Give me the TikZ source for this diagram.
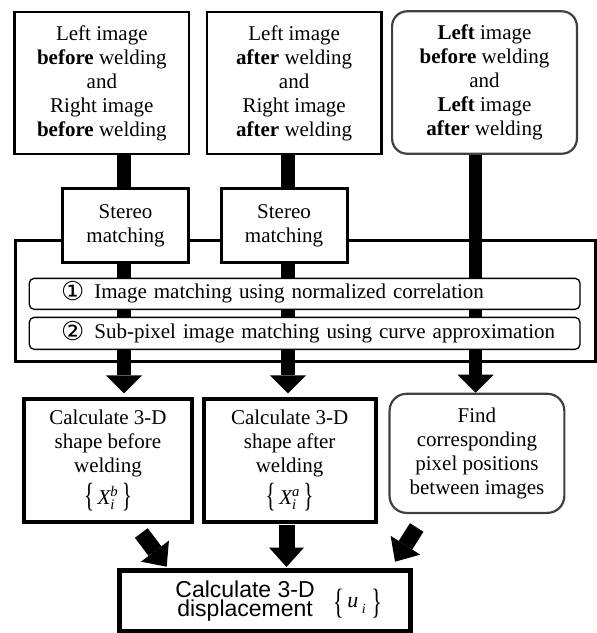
\documentclass[tikz,border=0pt]{standalone}
\usepackage{fontspec}
\usepackage{graphicx}
\setmainfont{Liberation Serif}
\newfontfamily\sansf{Liberation Sans}
\newfontfamily\symf{DejaVu Sans}
\usetikzlibrary{arrows.meta,calc,backgrounds}
\definecolor{rgray}{gray}{0.25}
\newcommand\brL[1][0em]{\raisebox{#1}{\scalebox{1}[1.6]{\{}}}
\newcommand\brR[1][0em]{\raisebox{#1}{\scalebox{1}[1.6]{\}}}}
\newcommand\circnum[1]{\makebox[33.4pt][l]{\smash{\raisebox{-0.08em}{\symf\fontsize{26}{24}\selectfont #1}}}}
\begin{document}
\begin{tikzpicture}[x=1pt,y=-1pt,
  box/.style={draw, line width=2.6pt, fill=white, inner sep=0pt, align=center, font=\fontsize{21}{24}\selectfont},
  rbox/.style={box, draw=rgray, line width=2.2pt, rounded corners=15pt},
  sbox/.style={box, line width=3pt},
  cbox/.style={box, line width=4pt},
  mbox/.style={draw, line width=1.3pt, fill=white, rounded corners=5pt, inner ysep=0pt, inner xsep=10pt, text width=530.8pt, align=left, minimum height=31pt, font=\fontsize{21}{24}\selectfont},
  bar/.style={line width=13.5pt, -{Triangle[width=36pt,length=18pt,line width=0pt]}},
  darrow/.style={line width=16pt, -{Triangle[width=35pt,length=19.5pt,line width=0pt]}}]
\useasboundingbox (0,0) rectangle (597,633);

% top row
\node[box, minimum width=174.5pt, minimum height=142pt] (top1) at (101.85,83)
  {Left image\\\textbf{before} welding\\and\\Right image\\\textbf{before} welding};
\node[box, minimum width=174.5pt, minimum height=142pt] (top2) at (294.15,83)
  {Left image\\\textbf{after} welding\\and\\Right image\\\textbf{after} welding};
\node[rbox, minimum width=184.8pt, minimum height=142.4pt] (top3) at (484.5,82.5)
  {\textbf{Left} image\\\textbf{before} welding\\and\\\textbf{Left} image\\\textbf{after} welding};

% stereo matching
\node[sbox, minimum width=126.4pt, minimum height=74pt] (st1) at (125.5,225.5) {Stereo\\matching};
\node[sbox, minimum width=126.1pt, minimum height=74pt] (st2) at (284.05,225.5) {Stereo\\matching};

% matching steps
\node[mbox] (m1) at (304.65,293.85)
  {\hspace*{21.75pt}\circnum{①}Image matching using normalized correlation};
\node[mbox, minimum height=32pt] (m2) at (304.65,333.35)
  {\hspace*{21.75pt}\circnum{②}Sub-pixel image matching using curve approximation};

% results
\node[cbox, minimum width=168.5pt, minimum height=123.3pt] (calc1) at (107.95,460.35)
  {Calculate 3-D\\shape before\\welding\\[5pt]\brL[-0.1em]\,$\mathit{X}^{\mathit{b}}_{\mathit{i}}$\,\brR[-0.1em]};
\node[cbox, minimum width=171.7pt, minimum height=123.3pt] (calc2) at (289.65,460.35)
  {Calculate 3-D\\shape after\\welding\\[5pt]\brL[-0.1em]\,$\mathit{X}^{\mathit{a}}_{\mathit{i}}$\,\brR[-0.1em]};
\node[rbox, rounded corners=17pt, minimum width=174.8pt, minimum height=119.1pt] (find) at (476.95,453.35)
  {Find\\corresponding\\pixel positions\\between images};

% final
\node[box, line width=5pt, minimum width=291pt, minimum height=60.2pt, font=\sansf\fontsize{23}{19}\selectfont] (bottom) at (265,600.9)
  {\hspace*{26pt}\parbox[c]{142pt}{\centering\lineskiplimit=-30pt Calculate 3-D\\displacement}\hspace{17pt}{\rmfamily\fontsize{22}{24}\selectfont\brL[-0.3em]\,\textit{u}\,\raisebox{-0.3em}{\fontsize{14}{14}\selectfont\textit{i}}\ \brR[-0.3em]}};

\coordinate (c1) at (124,0);
\coordinate (c2) at (288,0);
\coordinate (c3) at (475.6,0);

\begin{pgfonlayer}{background}
\node[draw, line width=3.4pt, minimum width=579.6pt, minimum height=121.2pt, inner sep=0pt] (frame) at (305.5,301) {};
\draw[bar] (top1.south -| c1) -- ($(calc1.north -| c1)+(0,-3.4)$);
\draw[bar] (top2.south -| c2) -- ($(calc2.north -| c2)+(0,-3.4)$);
\draw[bar] (top3.south -| c3) -- (find.north -| c3);
\end{pgfonlayer}

\draw[darrow] ($(calc1.south)+(33.35,9)$) -- ($(bottom.north)+(-98.3,-1.6)$);
\draw[darrow] ($(calc2.south)+(-3.15,1)$) -- ($(bottom.north)+(21.5,-1.3)$);
\draw[darrow] ($(find.south)+(-60.25,13.5)$) -- ($(bottom.north)+(130,-6.6)$);
\end{tikzpicture}
\end{document}
